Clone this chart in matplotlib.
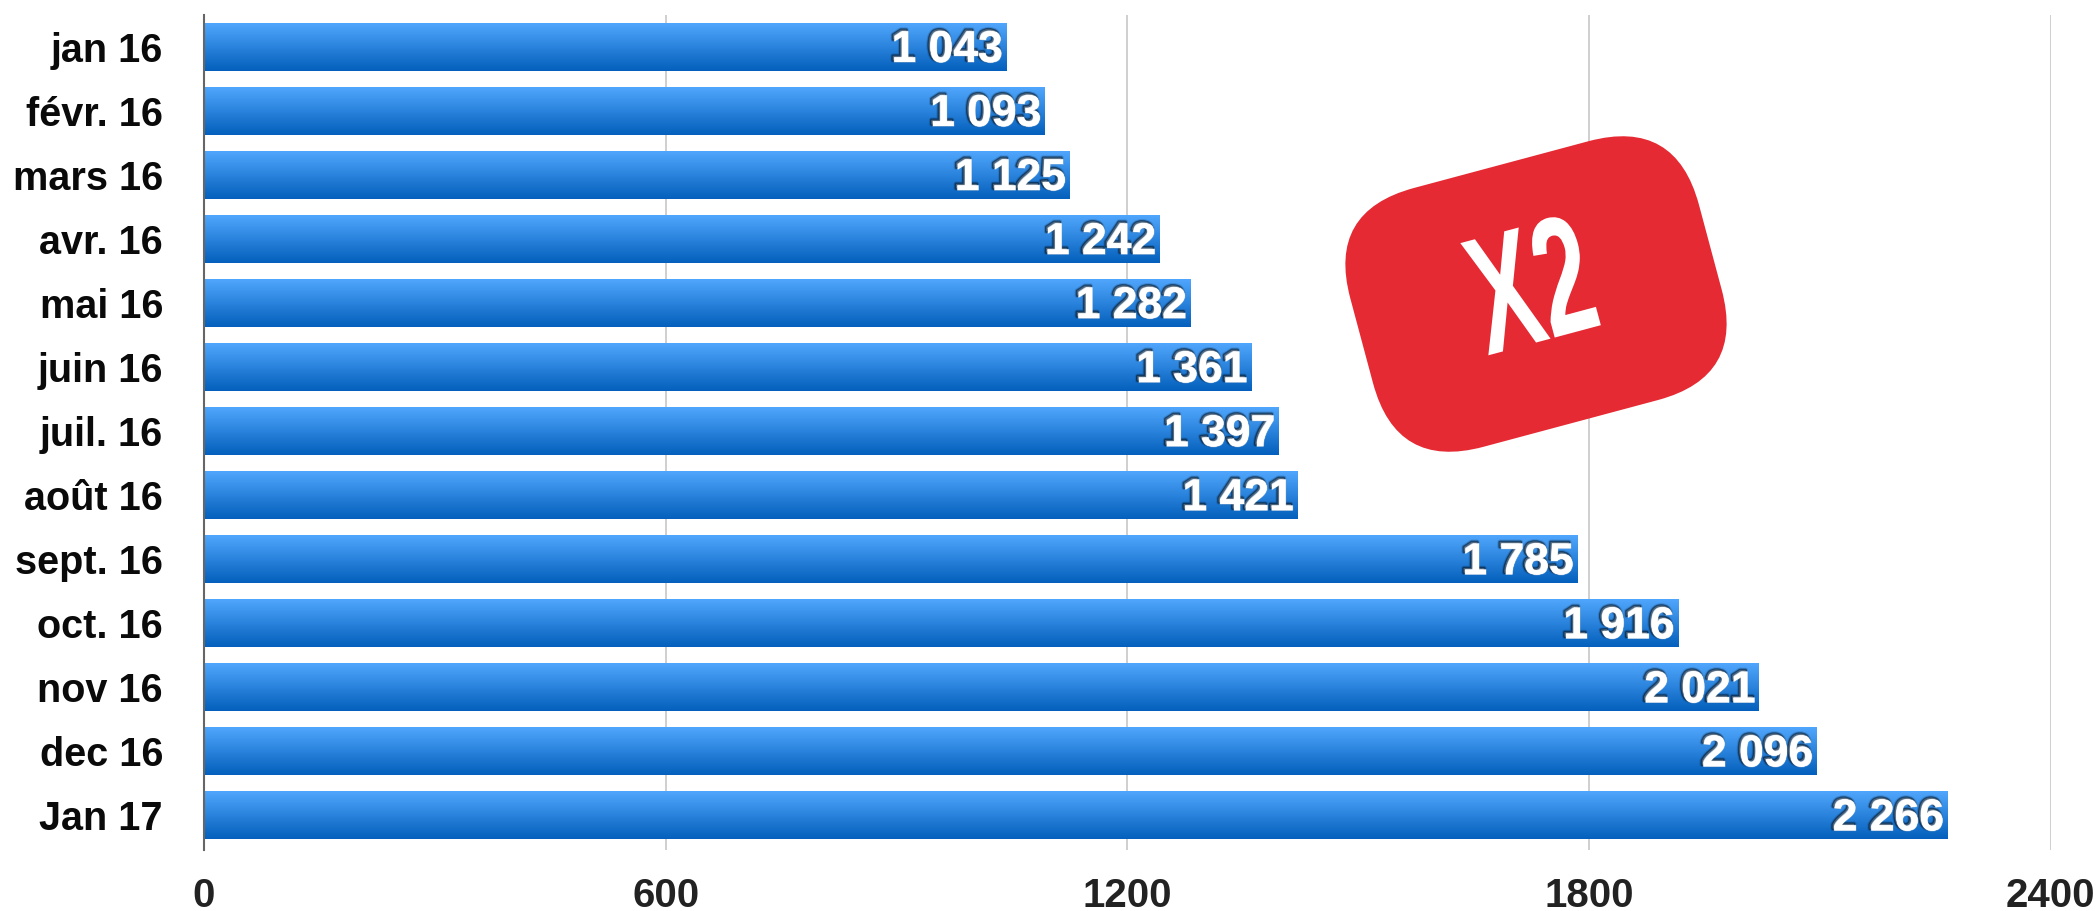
import numpy as np
import matplotlib
matplotlib.use("Agg")
import matplotlib.pyplot as plt
import matplotlib.patheffects as pe
from matplotlib.colors import LinearSegmentedColormap
from matplotlib.patches import FancyBboxPatch
from matplotlib.transforms import Affine2D

plt.rcParams['font.family'] = ['Liberation Sans', 'DejaVu Sans']

months = ['jan 16', 'févr. 16', 'mars 16', 'avr. 16', 'mai 16', 'juin 16', 'juil. 16',
          'août 16', 'sept. 16', 'oct. 16', 'nov 16', 'dec 16', 'Jan 17']
values = [1043, 1093, 1125, 1242, 1282, 1361, 1397, 1421, 1785, 1916, 2021, 2096, 2266]
value_labels = ['1 043', '1 093', '1 125', '1 242', '1 282', '1 361', '1 397',
                '1 421', '1 785', '1 916', '2 021', '2 096', '2 266']
xticks = [0, 600, 1200, 1800, 2400]
badge_text = 'X2'


class Narrow(pe.AbstractPathEffect):
    # compresse le texte en largeur (pas de police condensee installee)
    def __init__(self, s):
        super().__init__()
        self.s = s

    def draw_path(self, renderer, gc, tpath, affine, rgbFace=None):
        mid = (tpath.vertices[:, 0].min() + tpath.vertices[:, 0].max()) / 2
        a = Affine2D().translate(-mid, 0).scale(self.s, 1).translate(mid, 0) + affine
        renderer.draw_path(gc, tpath, a, rgbFace)


W, H = 2099, 911
fig = plt.figure(figsize=(W / 100, H / 100), dpi=100)
ax = fig.add_axes([204 / W, 1 - 850 / H, 1846.5 / W, 835 / H])

y = np.arange(len(months))
bars = ax.barh(y, values, height=47 / 64, color='none', zorder=3)

# degrade vertical de chaque barre
cmap = LinearSegmentedColormap.from_list('bleu', ['#50A6FC', '#0460BC'])
grad = np.linspace(0, 1, 64).reshape(-1, 1)
for b in bars:
    ax.imshow(grad, cmap=cmap, aspect='auto', zorder=3, interpolation='bilinear',
              extent=(b.get_x(), b.get_x() + b.get_width(),
                      b.get_y() + b.get_height(), b.get_y()))

ax.set_xlim(0, 2400)
ax.set_ylim(12.54, -0.5)

ax.set_xticks(xticks)
ax.set_yticks(y)
ax.set_yticklabels(months, fontsize=28.5, fontweight='bold', color='#0a0a0a')
ax.set_xticklabels([str(t) for t in xticks], fontsize=29, fontweight='bold', color='#222222')
ax.tick_params(axis='y', length=0, pad=29.6)
ax.tick_params(axis='x', length=0, pad=19.5)
ax.grid(axis='x', color='#cccccc', linewidth=1.3, zorder=0)
ax.set_axisbelow(True)
for s in ['top', 'right', 'bottom']:
    ax.spines[s].set_visible(False)
ax.spines['left'].set_color('#666666')
ax.spines['left'].set_linewidth(1.5)
ax.spines['left'].set_zorder(4)

# ombre floue approximee par plusieurs contours
shadow = [pe.Stroke(linewidth=3.5, foreground='#04213f', alpha=0.18, offset=(-1.2, 1.2)),
          pe.Stroke(linewidth=2.0, foreground='#04121f', alpha=0.55, offset=(-1.2, 1.2)),
          pe.withStroke(linewidth=1.0, foreground='#ffffff', alpha=0.35),
          pe.Normal()]
for i, v in enumerate(values):
    ax.annotate(value_labels[i], (v, i), xytext=(-2.5, -2.5), textcoords='offset points',
                ha='right', va='center', fontsize=32, fontweight='bold', color='white',
                path_effects=shadow, zorder=5)

# pastille rouge, en pixels de la figure
cx, cy = 1536, H - 294
bw, bh = 361, 268
rot = Affine2D().rotate_deg_around(cx, cy, 15)
badge = FancyBboxPatch((cx - bw / 2, cy - bh / 2), bw, bh,
                       boxstyle='round,pad=0,rounding_size=90',
                       facecolor='#E52A33', edgecolor='none',
                       transform=rot, zorder=6)
fig.add_artist(badge)
fig.text(1536 / W, 1 - 297 / H, badge_text, rotation=15, rotation_mode='anchor',
         ha='center', va='center', fontsize=121, fontweight='bold', color='white',
         path_effects=[Narrow(0.59)], zorder=7)

fig.savefig('out.png', dpi=100)
